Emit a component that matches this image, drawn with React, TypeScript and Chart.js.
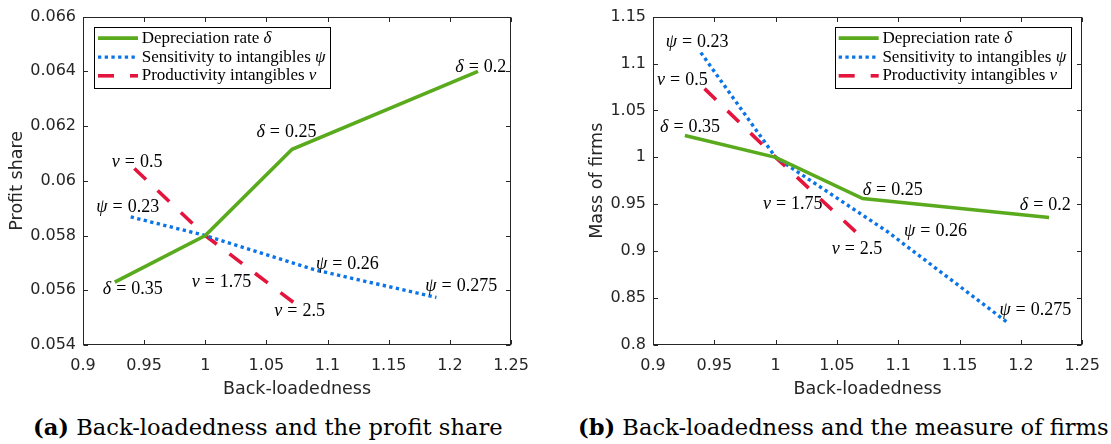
import React, { useEffect, useRef } from "react";
import { Chart, registerables } from "chart.js";

Chart.register(...registerables);

// ---------- data ----------
const xTickValues = [0.9, 0.95, 1, 1.05, 1.1, 1.15, 1.2, 1.25];
const xTickLabels = ["0.9", "0.95", "1", "1.05", "1.1", "1.15", "1.2", "1.25"];
const profitTickValues = [0.054, 0.056, 0.058, 0.06, 0.062, 0.064, 0.066];
const profitTickLabels = ["0.054", "0.056", "0.058", "0.06", "0.062", "0.064", "0.066"];
const massTickValues = [0.8, 0.85, 0.9, 0.95, 1, 1.05, 1.1, 1.15];
const massTickLabels = ["0.8", "0.85", "0.9", "0.95", "1", "1.05", "1.1", "1.15"];

// depreciation rate delta: 0.35, 0.3, 0.25, 0.2
const deprX = [0.926, 1.0, 1.071, 1.223];
const deprProfit = [0.0563, 0.058, 0.06115, 0.064];
const deprMass = [1.0232, 1.0, 0.9561, 0.9359];
// sensitivity to intangibles psi: 0.23, 0.25, 0.26, 0.275
const sensX = [0.939, 1.0, 1.091, 1.189];
const sensProfit = [0.05868, 0.058, 0.05673, 0.05574];
const sensMass = [1.1116, 1.0, 0.921, 0.8241];
// productivity intangibles nu: 0.5, 1.75, 2.5
const prodX = [0.942, 1.0, 1.072];
const prodProfit = [0.06045, 0.058, 0.05556];
const prodMass = [1.0732, 1.0, 0.9125];

const legendNames = ["Depreciation rate", "Sensitivity to intangibles", "Productivity intangibles"];
const legendSymbols = ["δ", "ψ", "ν"];

// point annotations (symbol, value, anchor in data units)
const profitAnnSym = ["δ", "δ", "δ", "ψ", "ψ", "ψ", "ν", "ν", "ν"];
const profitAnnVal = ["0.35", "0.25", "0.2", "0.23", "0.26", "0.275", "0.5", "1.75", "2.5"];
const profitAnnX = [0.9407, 1.0664, 1.2253, 0.9366, 1.1162, 1.2093, 0.9443, 1.0133, 1.0772];
const profitAnnY = [0.05602, 0.06177, 0.06414, 0.05904, 0.05696, 0.05616, 0.06066, 0.05628, 0.055236];

const massAnnSym = ["δ", "δ", "δ", "ψ", "ψ", "ψ", "ν", "ν", "ν"];
const massAnnVal = ["0.35", "0.25", "0.2", "0.23", "0.26", "0.275", "0.5", "1.75", "2.5"];
const massAnnX = [0.9302, 1.0955, 1.2199, 0.936, 1.1304, 1.2118, 0.9239, 1.014, 1.0664];
const massAnnY = [1.0318, 0.9646, 0.9488, 1.1231, 0.9208, 0.8375, 1.0817, 0.9505, 0.9016];

// ---------- styles ----------
const GREEN = "#5aaa1e";
const BLUE = "#0a74e8";
const RED = "#e4143c";
const AXIS = "#262626";
const SANS = '"DejaVu Sans", sans-serif';
const SERIF = '"Liberation Serif", serif';

const seriesStyle = [
  { color: GREEN, dash: [] as number[], width: 3.6 },
  { color: BLUE, dash: [3.3, 3.4], width: 3.4 },
  { color: RED, dash: [16, 16], width: 3.6 },
];

function drawMath(ctx: CanvasRenderingContext2D, sym: string, val: string, cx: number, cy: number, size: number) {
  const it = `italic ${size}px ${SERIF}`;
  const up = `${size}px ${SERIF}`;
  ctx.font = it;
  const w1 = ctx.measureText(sym).width;
  ctx.font = up;
  const weq = ctx.measureText("=").width;
  const wv = ctx.measureText(val).width;
  const gap = size * 0.278;
  const total = w1 + gap + weq + gap + wv;
  let x = cx - total / 2;
  ctx.textBaseline = "middle";
  ctx.textAlign = "left";
  ctx.fillStyle = "#000";
  ctx.font = it;
  ctx.fillText(sym, x, cy);
  x += w1 + gap;
  ctx.font = up;
  ctx.fillText("=", x, cy);
  x += weq + gap;
  ctx.fillText(val, x, cy);
}

function makeConfig(
  yMin: number,
  yMax: number,
  yTicks: number[],
  yLabels: string[],
  yTitle: string,
  yAxisWidth: number,
  padRight: number,
  datas: { x: number; y: number }[][],
  ann: { sym: string[]; val: string[]; x: number[]; y: number[] },
  legendAlign: "left" | "right"
): any {
  const overlay = {
    id: "overlay",
    afterDatasetsDraw(chart: any) {
      const ctx: CanvasRenderingContext2D = chart.ctx;
      const ca = chart.chartArea;
      const xs = chart.scales.x;
      const ys = chart.scales.y;
      ctx.save();
      // annotations
      for (let i = 0; i < ann.sym.length; i++) {
        drawMath(ctx, ann.sym[i], ann.val[i], xs.getPixelForValue(ann.x[i]), ys.getPixelForValue(ann.y[i]), 18);
      }
      // frame + inward ticks
      const L = Math.round(ca.left) + 0.5;
      const R = Math.round(ca.right) - 0.5;
      const T = Math.round(ca.top) + 0.5;
      const B = Math.round(ca.bottom) - 0.5;
      ctx.strokeStyle = AXIS;
      ctx.lineWidth = 1;
      ctx.setLineDash([]);
      ctx.strokeRect(L, T, R - L, B - T);
      ctx.beginPath();
      const tl = 4.5;
      for (const v of xTickValues) {
        const p = Math.round(xs.getPixelForValue(v)) + 0.5;
        ctx.moveTo(p, B);
        ctx.lineTo(p, B - tl);
        ctx.moveTo(p, T);
        ctx.lineTo(p, T + tl);
      }
      for (const v of yTicks) {
        const p = Math.round(ys.getPixelForValue(v)) + 0.5;
        ctx.moveTo(L, p);
        ctx.lineTo(L + tl, p);
        ctx.moveTo(R, p);
        ctx.lineTo(R - tl, p);
      }
      ctx.stroke();
      // legend
      const bw = 236;
      const bh = 61;
      const bx = legendAlign === "left" ? ca.left + 11 : ca.right - 11.5 - bw;
      const by = ca.top + 10.5;
      ctx.fillStyle = "#fff";
      ctx.fillRect(bx, by, bw, bh);
      ctx.strokeStyle = "#000";
      ctx.lineWidth = 1;
      ctx.strokeRect(Math.round(bx) + 0.5, Math.round(by) + 0.5, bw, bh);
      const rows = [11, 30, 48.7];
      for (let i = 0; i < 3; i++) {
        const st = seriesStyle[i];
        const yy = by + rows[i];
        ctx.beginPath();
        ctx.strokeStyle = st.color;
        ctx.lineWidth = st.width;
        ctx.setLineDash(st.dash);
        ctx.moveTo(bx + 4, yy);
        ctx.lineTo(bx + 44, yy);
        ctx.stroke();
        ctx.setLineDash([]);
        ctx.fillStyle = "#000";
        ctx.textBaseline = "middle";
        ctx.textAlign = "left";
        ctx.font = `17px ${SERIF}`;
        const t = legendNames[i] + " ";
        ctx.fillText(t, bx + 47.7, yy);
        const w = ctx.measureText(t).width;
        ctx.font = `italic 17px ${SERIF}`;
        ctx.fillText(legendSymbols[i], bx + 47.7 + w, yy);
      }
      ctx.restore();
    },
  };

  return {
    type: "line",
    data: {
      datasets: datas.map((d, i) => ({
        data: d,
        borderColor: seriesStyle[i].color,
        borderWidth: seriesStyle[i].width,
        borderDash: seriesStyle[i].dash,
        borderCapStyle: "butt",
        pointRadius: 0,
        fill: false,
        tension: 0,
      })),
    },
    options: {
      responsive: false,
      animation: false,
      layout: { padding: { left: 0, right: padRight, top: 12, bottom: 0 } },
      plugins: { legend: { display: false }, tooltip: { enabled: false } },
      scales: {
        x: {
          type: "linear",
          min: 0.9,
          max: 1.25,
          afterBuildTicks: (s: any) => {
            s.ticks = xTickValues.map((v) => ({ value: v }));
          },
          afterFit: (s: any) => {
            s.height = 55;
          },
          grid: { display: false, drawTicks: false },
          border: { display: false },
          ticks: {
            autoSkip: false,
            maxRotation: 0,
            padding: 11,
            color: AXIS,
            font: { family: SANS, size: 16 },
            callback: (v: number) => {
              const i = xTickValues.findIndex((t) => Math.abs(t - v) < 1e-9);
              return i >= 0 ? xTickLabels[i] : "";
            },
          },
          title: {
            display: true,
            text: "Back-loadedness",
            color: AXIS,
            font: { family: SANS, size: 17.5 },
            padding: { top: 0, bottom: 0 },
          },
        },
        y: {
          type: "linear",
          min: yMin,
          max: yMax,
          afterBuildTicks: (s: any) => {
            s.ticks = yTicks.map((v) => ({ value: v }));
          },
          afterFit: (s: any) => {
            s.width = yAxisWidth;
          },
          grid: { display: false, drawTicks: false },
          border: { display: false },
          ticks: {
            autoSkip: false,
            padding: 7,
            color: AXIS,
            font: { family: SANS, size: 16 },
            callback: (v: number) => {
              const i = yTicks.findIndex((t) => Math.abs(t - v) < 1e-9);
              return i >= 0 ? yLabels[i] : "";
            },
          },
          title: {
            display: true,
            text: yTitle,
            color: AXIS,
            font: { family: SANS, size: 17.5 },
            padding: { top: 7, bottom: 0 },
          },
        },
      },
    },
    plugins: [overlay],
  };
}

function zip(xs: number[], ys: number[]) {
  return xs.map((x, i) => ({ x, y: ys[i] }));
}

export default function App() {
  const leftRef = useRef<HTMLCanvasElement>(null);
  const rightRef = useRef<HTMLCanvasElement>(null);

  useEffect(() => {
    document.body.style.margin = "0";
    const c1 = new Chart(
      leftRef.current!,
      makeConfig(
        0.054,
        0.066,
        profitTickValues,
        profitTickLabels,
        "Profit share",
        83,
        39,
        [zip(deprX, deprProfit), zip(sensX, sensProfit), zip(prodX, prodProfit)],
        { sym: profitAnnSym, val: profitAnnVal, x: profitAnnX, y: profitAnnY },
        "left"
      )
    );
    const c2 = new Chart(
      rightRef.current!,
      makeConfig(
        0.8,
        1.15,
        massTickValues,
        massTickLabels,
        "Mass of firms",
        73,
        23,
        [zip(deprX, deprMass), zip(sensX, sensMass), zip(prodX, prodMass)],
        { sym: massAnnSym, val: massAnnVal, x: massAnnX, y: massAnnY },
        "right"
      )
    );
    return () => {
      c1.destroy();
      c2.destroy();
    };
  }, []);

  const capStyle: React.CSSProperties = {
    position: "absolute",
    top: 413,
    fontFamily: '"DejaVu Serif", serif',
    fontSize: 22.6,
    lineHeight: "28px",
    whiteSpace: "nowrap",
    color: "#000",
  };

  return (
    <div style={{ position: "relative", width: 1111, height: 444, overflow: "hidden", background: "#fff" }}>
      <canvas ref={leftRef} width={550} height={400} style={{ position: "absolute", left: 0, top: 0 }} />
      <canvas ref={rightRef} width={531} height={400} style={{ position: "absolute", left: 580, top: 0 }} />
      <div style={{ ...capStyle, left: 33 }}>
        <b>(a)</b> Back-loadedness and the profit share
      </div>
      <div style={{ ...capStyle, left: 578 }}>
        <b>(b)</b> Back-loadedness and the measure of firms
      </div>
    </div>
  );
}
